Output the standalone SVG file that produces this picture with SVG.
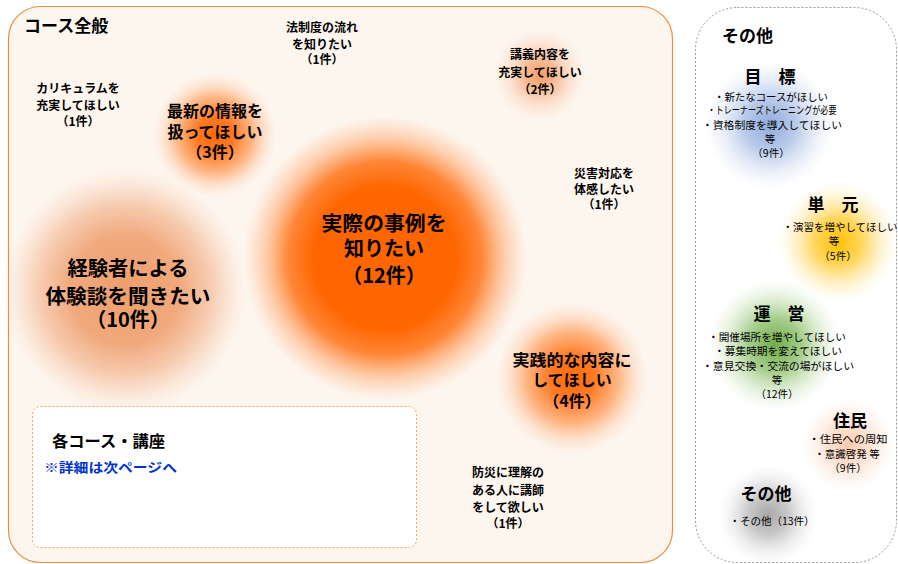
<svg xmlns="http://www.w3.org/2000/svg" width="898" height="564" viewBox="0 0 898 564">
<defs>
<style>
text{font-family:"Noto Sans CJK JP","Noto Sans",sans-serif;font-weight:bold;fill:#000;text-anchor:middle}
.s{font-size:12px}
.m{font-size:16px}
.l{font-size:20px}
.h{font-size:17px}
.r{font-size:10.5px;font-weight:normal}
.lt{text-anchor:start}
</style>
<radialGradient id="gBig"><stop offset="0" stop-color="#FF6600"/><stop offset="0.5" stop-color="#FF6600"/><stop offset="0.68" stop-color="#FF6A08" stop-opacity="0.8"/><stop offset="0.84" stop-color="#FF7F2A" stop-opacity="0.35"/><stop offset="1" stop-color="#FF9955" stop-opacity="0"/></radialGradient>
<radialGradient id="gExp"><stop offset="0" stop-color="#EE9E6C"/><stop offset="0.45" stop-color="#F0A577" stop-opacity="0.95"/><stop offset="0.7" stop-color="#F2AE85" stop-opacity="0.6"/><stop offset="0.87" stop-color="#F5BC98" stop-opacity="0.25"/><stop offset="1" stop-color="#F8CBAD" stop-opacity="0"/></radialGradient>
<radialGradient id="gOr"><stop offset="0" stop-color="#FF6A0A"/><stop offset="0.3" stop-color="#FF741A" stop-opacity="0.95"/><stop offset="0.6" stop-color="#FF8838" stop-opacity="0.6"/><stop offset="0.82" stop-color="#FFA060" stop-opacity="0.22"/><stop offset="1" stop-color="#FFB27F" stop-opacity="0"/></radialGradient>
<radialGradient id="gLt"><stop offset="0" stop-color="#F29A62"/><stop offset="0.35" stop-color="#F4AA7A" stop-opacity="0.75"/><stop offset="0.7" stop-color="#F7BE9A" stop-opacity="0.3"/><stop offset="1" stop-color="#F8C8A8" stop-opacity="0"/></radialGradient>
<radialGradient id="gBlue"><stop offset="0" stop-color="#8FAADC"/><stop offset="0.4" stop-color="#A6BCE3" stop-opacity="0.8"/><stop offset="0.72" stop-color="#BCCDEB" stop-opacity="0.35"/><stop offset="1" stop-color="#D0DCF2" stop-opacity="0"/></radialGradient>
<radialGradient id="gYel"><stop offset="0" stop-color="#FFC000"/><stop offset="0.4" stop-color="#FFCF40" stop-opacity="0.85"/><stop offset="0.72" stop-color="#FFDF80" stop-opacity="0.4"/><stop offset="1" stop-color="#FFECB3" stop-opacity="0"/></radialGradient>
<radialGradient id="gGrn"><stop offset="0" stop-color="#70AD47"/><stop offset="0.4" stop-color="#93C474" stop-opacity="0.85"/><stop offset="0.72" stop-color="#B5D79E" stop-opacity="0.4"/><stop offset="1" stop-color="#D5E8C8" stop-opacity="0"/></radialGradient>
<radialGradient id="gPch"><stop offset="0" stop-color="#F8CBAD"/><stop offset="0.45" stop-color="#FAD6BF" stop-opacity="0.7"/><stop offset="1" stop-color="#FCE4D6" stop-opacity="0"/></radialGradient>
<radialGradient id="gGry"><stop offset="0" stop-color="#A6A6A6"/><stop offset="0.4" stop-color="#BBBBBB" stop-opacity="0.8"/><stop offset="0.72" stop-color="#D0D0D0" stop-opacity="0.35"/><stop offset="1" stop-color="#E0E0E0" stop-opacity="0"/></radialGradient>
</defs>
<rect width="898" height="564" fill="#FFFFFF"/>

<g id="course-general">
<rect x="8.5" y="6.5" width="664" height="556" rx="32" fill="#FDF6EF" stroke="#F08A3C" stroke-width="1.2"/>
<text x="24" y="32" class="h lt">コース全般</text>
</g>

<g id="blobs">
<circle cx="125" cy="290" r="122" fill="url(#gExp)"/>
<circle cx="385" cy="258" r="142" fill="url(#gBig)"/>
<circle cx="215" cy="135" r="62" fill="url(#gOr)"/>
<circle cx="540" cy="75" r="46" fill="url(#gLt)"/>
<circle cx="572" cy="378" r="76" fill="url(#gOr)"/>
<circle cx="770" cy="125" r="64" fill="url(#gBlue)"/>
<circle cx="838" cy="242" r="60" fill="url(#gYel)"/>
<circle cx="775" cy="345" r="66" fill="url(#gGrn)"/>
<circle cx="848" cy="445" r="46" fill="url(#gPch)"/>
<circle cx="768" cy="515" r="50" fill="url(#gGry)"/>
</g>

<g id="n-curriculum">
<text x="78" y="93" class="s">カリキュラムを</text>
<text x="78" y="110" class="s">充実してほしい</text>
<text x="78" y="126" class="s">（1件）</text>
</g>
<g id="n-latest">
<text x="215" y="117" class="m">最新の情報を</text>
<text x="215" y="138" class="m">扱ってほしい</text>
<text x="215" y="158" class="m">（3件）</text>
</g>
<g id="n-law">
<text x="322" y="32" class="s">法制度の流れ</text>
<text x="322" y="49" class="s">を知りたい</text>
<text x="322" y="64" class="s">（1件）</text>
</g>
<g id="n-lecture">
<text x="540" y="59" class="s">講義内容を</text>
<text x="540" y="77" class="s">充実してほしい</text>
<text x="540" y="94" class="s">（2件）</text>
</g>
<g id="n-disaster">
<text x="604" y="178" class="s">災害対応を</text>
<text x="604" y="194" class="s">体感したい</text>
<text x="604" y="209" class="s">（1件）</text>
</g>
<g id="n-cases">
<text x="384" y="231" class="l" textLength="125" lengthAdjust="spacingAndGlyphs">実際の事例を</text>
<text x="384" y="256" class="l">知りたい</text>
<text x="384" y="283" class="l">（12件）</text>
</g>
<g id="n-experience">
<text x="128" y="276" class="l" textLength="121" lengthAdjust="spacingAndGlyphs">経験者による</text>
<text x="128" y="304" class="l" textLength="165" lengthAdjust="spacingAndGlyphs">体験談を聞きたい</text>
<text x="128" y="327" class="l">（10件）</text>
</g>
<g id="n-practical">
<text x="572" y="366" class="m" textLength="119" lengthAdjust="spacingAndGlyphs">実践的な内容に</text>
<text x="572" y="386" class="m">してほしい</text>
<text x="572" y="407" class="m">（4件）</text>
</g>
<g id="n-lecturer">
<text x="508" y="477" class="s">防災に理解の</text>
<text x="508" y="495" class="s">ある人に講師</text>
<text x="508" y="512" class="s">をして欲しい</text>
<text x="508" y="528" class="s">（1件）</text>
</g>
<g id="n-each-course">
<rect x="32.5" y="406.5" width="384" height="141" rx="8" fill="#FFFFFF" stroke="#F4A460" stroke-width="1" stroke-dasharray="2 2"/>
<text x="52" y="447" class="m lt" textLength="113" lengthAdjust="spacingAndGlyphs">各コース・講座</text>
<text x="44" y="472" class="lt" style="font-size:13px;fill:#0033CC" textLength="133" lengthAdjust="spacingAndGlyphs">※詳細は次ページへ</text>
</g>

<g id="other">
<rect x="695.5" y="7.5" width="201" height="555" rx="42" fill="none" stroke="#999999" stroke-width="1" stroke-dasharray="2 2"/>
<text x="722" y="42" class="h lt">その他</text>
</g>
<g id="n-goal">
<text x="770" y="83" class="h">目　標</text>
<text x="771" y="101" class="r" textLength="114" lengthAdjust="spacingAndGlyphs">・新たなコースがほしい</text>
<text x="772" y="114" class="r" textLength="129" lengthAdjust="spacingAndGlyphs">・トレーナーズトレーニングが必要</text>
<text x="772" y="129" class="r" textLength="140" lengthAdjust="spacingAndGlyphs">・資格制度を導入してほしい</text>
<text x="770" y="143" class="r">等</text>
<text x="771" y="157" class="r">（9件）</text>
</g>
<g id="n-unit">
<text x="833" y="211" class="h">単　元</text>
<text x="840" y="231" class="r" textLength="115" lengthAdjust="spacingAndGlyphs">・演習を増やしてほしい</text>
<text x="834" y="245" class="r">等</text>
<text x="838" y="260" class="r">（5件）</text>
</g>
<g id="n-operation">
<text x="779" y="320" class="h">運　営</text>
<text x="777" y="341" class="r" textLength="138" lengthAdjust="spacingAndGlyphs">・開催場所を増やしてほしい</text>
<text x="778" y="355" class="r" textLength="128" lengthAdjust="spacingAndGlyphs">・募集時期を変えてほしい</text>
<text x="778" y="370" class="r" textLength="152" lengthAdjust="spacingAndGlyphs">・意見交換・交流の場がほしい</text>
<text x="777" y="384" class="r">等</text>
<text x="777" y="398" class="r">（12件）</text>
</g>
<g id="n-residents">
<text x="850" y="427" class="h">住民</text>
<text x="848" y="443" class="r" textLength="79" lengthAdjust="spacingAndGlyphs">・住民への周知</text>
<text x="847" y="458" class="r">・意識啓発 等</text>
<text x="848" y="472" class="r">（9件）</text>
</g>
<g id="n-others">
<text x="766" y="500" class="h">その他</text>
<text x="772" y="525" class="r">・その他（13件）</text>
</g>
<g id="connectors"/>
</svg>
